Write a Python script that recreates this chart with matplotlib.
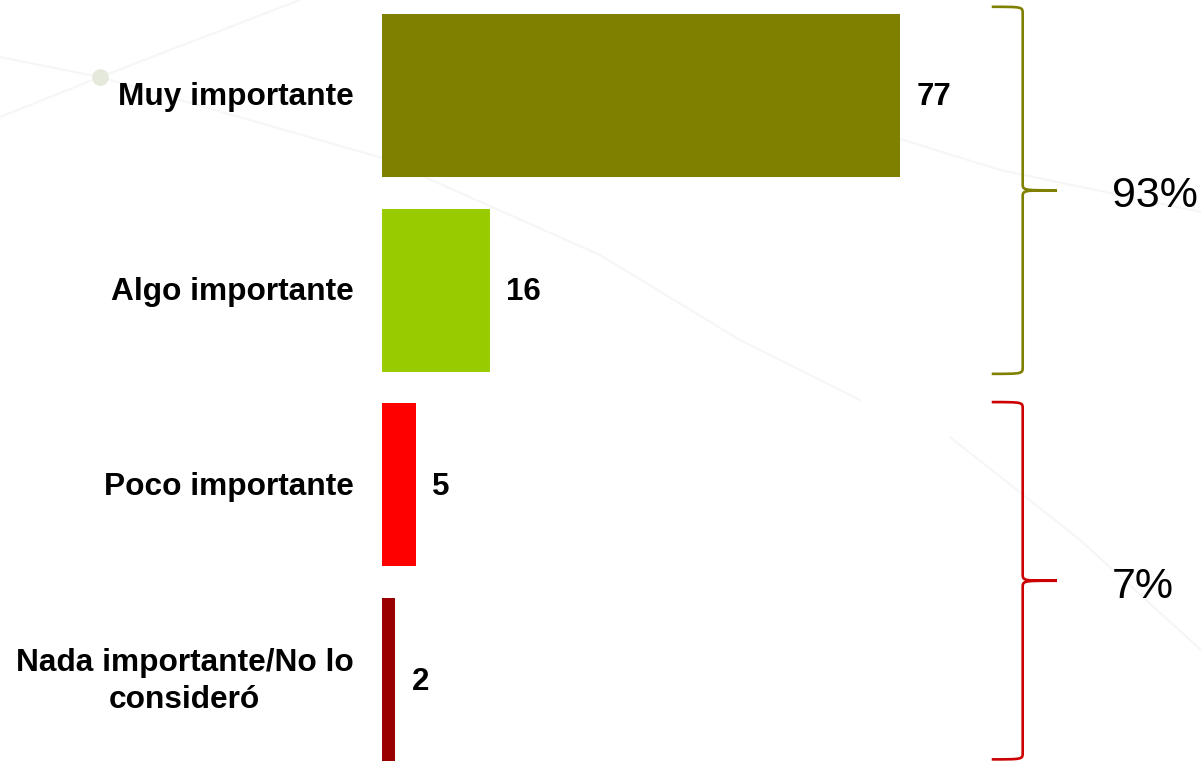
import matplotlib
matplotlib.use("Agg")
from matplotlib import pyplot as plt
from matplotlib.path import Path
from matplotlib.patches import PathPatch
from matplotlib.lines import Line2D

plt.rcParams["font.family"] = ["Liberation Sans", "DejaVu Sans"]

# data
categories = ["Muy importante", "Algo importante", "Poco importante",
              "Nada importante/No lo\nconsideró"]
values = [77, 16, 5, 2]
bar_colors = ["#808000", "#99CC00", "#FF0000", "#990000"]
group_labels = ["93%", "7%"]
group_ranges = [(0, 1), (2, 3)]
group_colors = ["#808000", "#CC0000"]


def brace(ax, y0, y1, color, x_end=90.6, x_mid=95.2, x_tip=100.3, r=0.035):
    ym = (y0 + y1) / 2
    verts = [(x_end, y0), (x_mid, y0), (x_mid, y0), (x_mid, y0 + r),
             (x_mid, ym - r),
             (x_mid, ym), (x_mid, ym), (x_tip, ym),
             (x_mid, ym), (x_mid, ym), (x_mid, ym + r),
             (x_mid, y1 - r),
             (x_mid, y1), (x_mid, y1), (x_end, y1)]
    codes = [Path.MOVETO, Path.CURVE4, Path.CURVE4, Path.CURVE4,
             Path.LINETO,
             Path.CURVE4, Path.CURVE4, Path.CURVE4,
             Path.CURVE4, Path.CURVE4, Path.CURVE4,
             Path.LINETO,
             Path.CURVE4, Path.CURVE4, Path.CURVE4]
    ax.add_patch(PathPatch(Path(verts, codes), facecolor="none", edgecolor=color,
                           lw=1.9, clip_on=False))
    return ym


fig = plt.figure(figsize=(12.01, 7.66), dpi=100)
W, H = 1201, 766

# faint decorative background lines
bg = "#f6f6f6"
for pts in [[(0, 117), (100, 77), (300, 0)],
            [(0, 57), (100, 77), (382, 158)],
            [(833, 118), (1000, 170), (1201, 212)],
            [(420, 175), (600, 255), (740, 340), (860, 400)],
            [(950, 437), (1080, 540), (1201, 650)]]:
    xs = [p[0] / W for p in pts]
    ys = [1 - p[1] / H for p in pts]
    fig.add_artist(Line2D(xs, ys, color=bg, lw=1.5, zorder=0))
fig.add_artist(Line2D([100 / W], [1 - 77 / H], marker="o", ms=11,
                      color="#e4e9dc", lw=0, zorder=0))

ax = fig.add_axes([382 / W, 0, 819 / W, 1])
ax.patch.set_alpha(0)
y = list(range(len(categories)))
ax.barh(y, values, height=0.837, color=bar_colors)
ax.set_xlim(0, 819 / 6.73)
ax.set_ylim(3.444, -0.49)
ax.axis("off")

for yi, v, cat in zip(y, values, categories):
    ax.annotate(str(v), (v, yi), xytext=(11.5, -1.5), textcoords="offset points",
                ha="left", va="center", fontsize=22.5, fontweight="bold")
    ax.annotate(cat, (0, yi), xytext=(-20.5, -1.5), textcoords="offset points",
                ha="right", va="center", multialignment="center",
                fontsize=22.8, fontweight="bold", linespacing=1.3)

for (a, b), lab, col in zip(group_ranges, group_labels, group_colors):
    y0 = a - 0.455 if a == 0 else a - 0.425
    y1 = b + 0.43 if b == 1 else b + 0.41
    ym = brace(ax, y0, y1, col)
    ax.text(108.5, ym + 0.03, lab, ha="left", va="center", fontsize=31,
            clip_on=False)

fig.savefig("out.png", dpi=100)
